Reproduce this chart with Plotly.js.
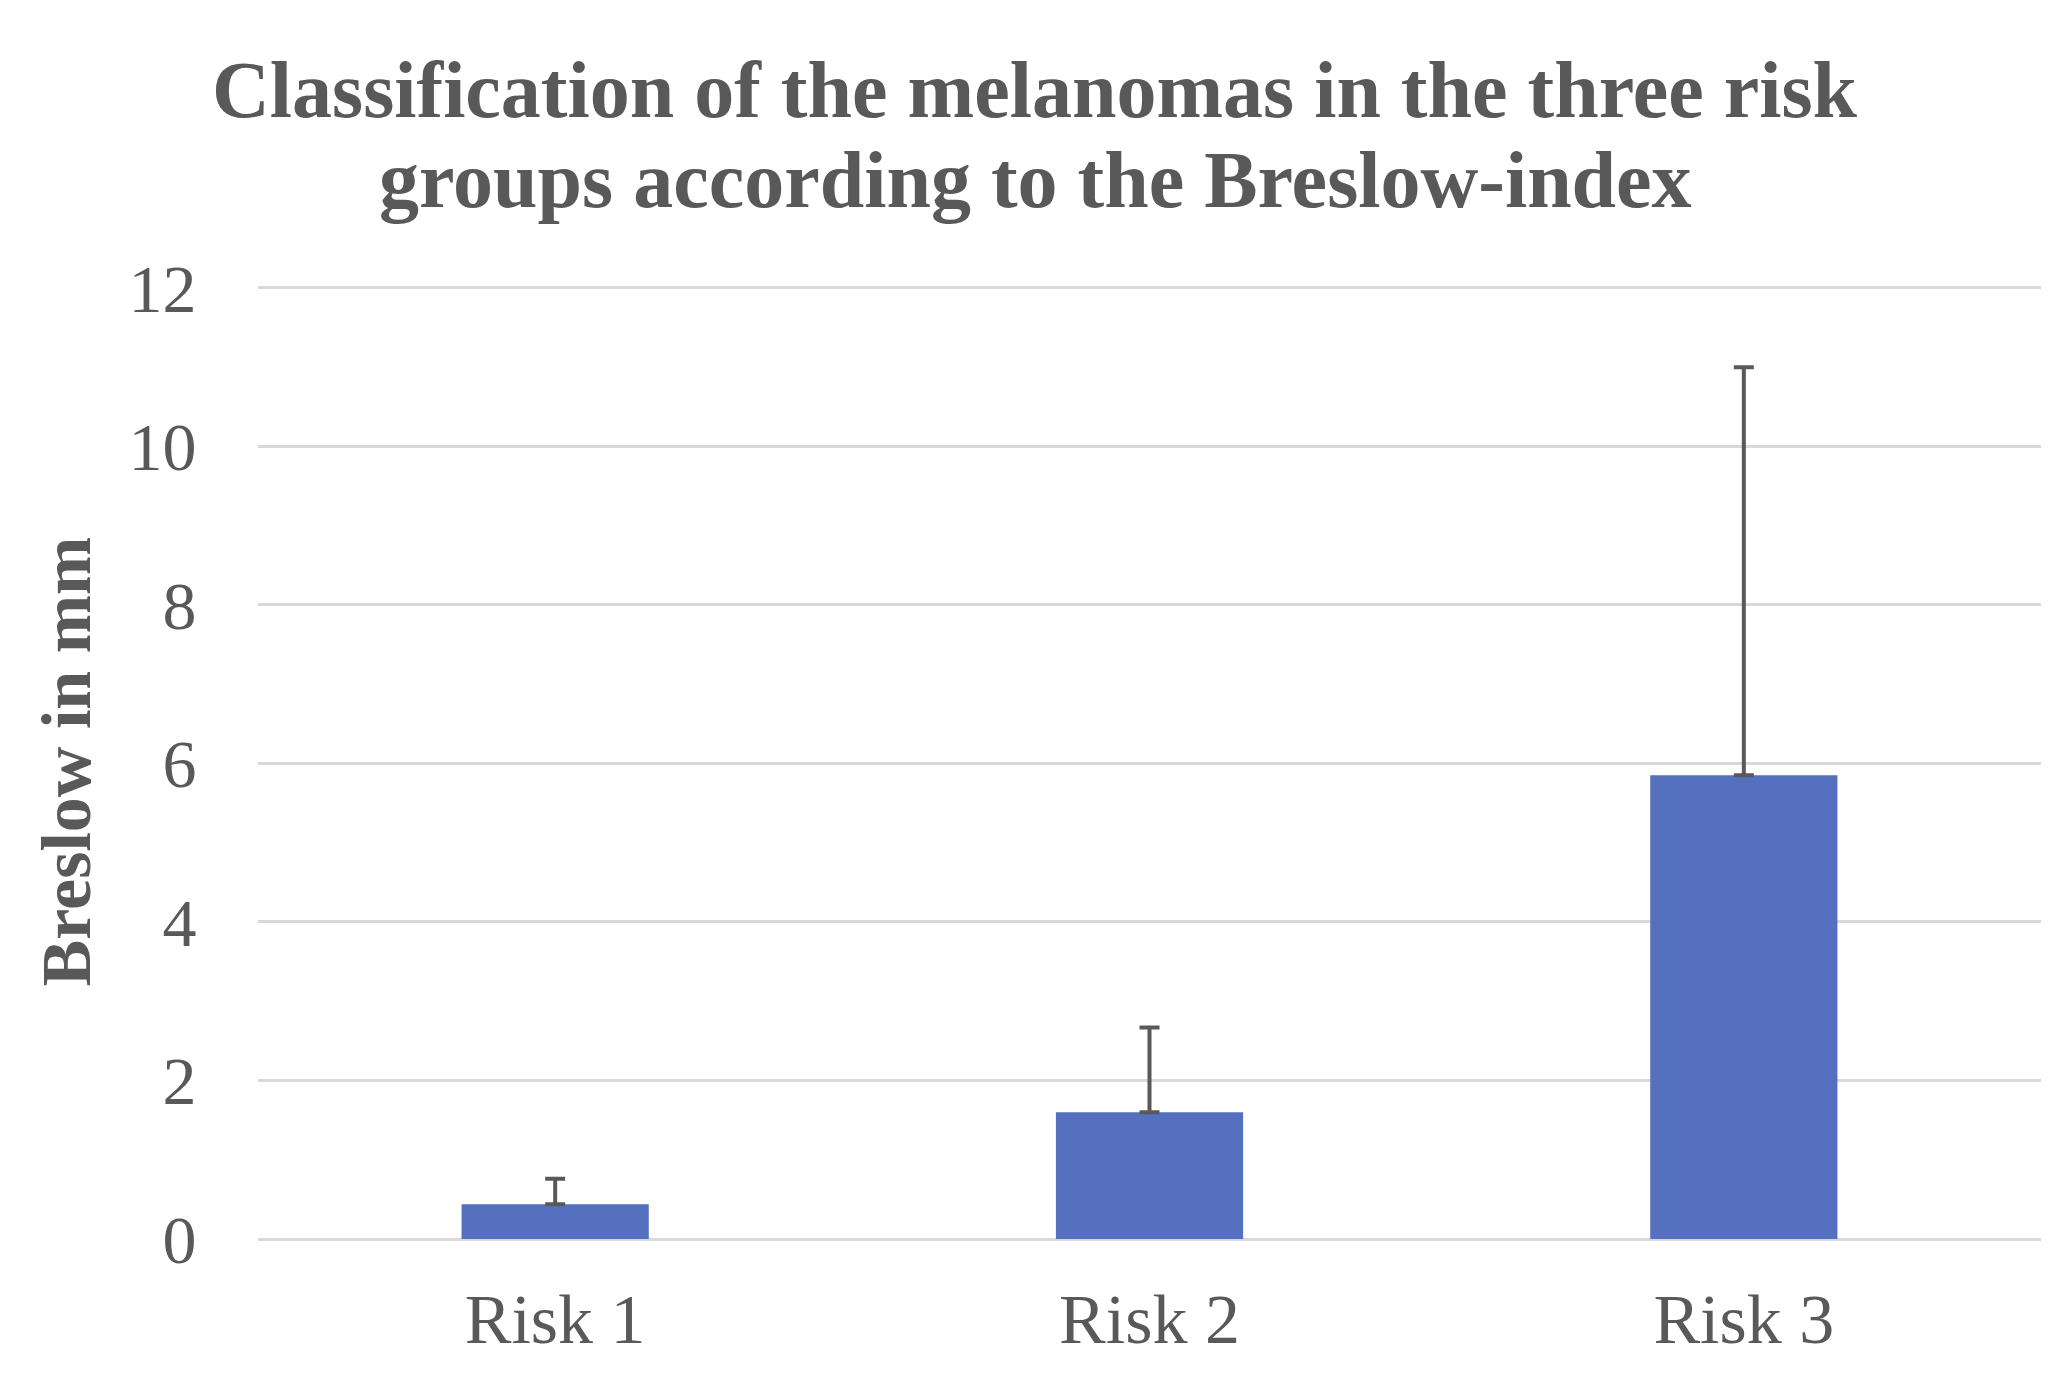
<!DOCTYPE html>
<html>
<head>
<meta charset="utf-8">
<script src="https://cdn.plot.ly/plotly-3.0.1.min.js"></script>
<style>html,body{margin:0;padding:0;background:#fff;}#chart{width:2071px;height:1382px;}</style>
</head>
<body>
<div id="chart"></div>
<script>
const categories = ["Risk 1", "Risk 2", "Risk 3"];
const breslowMean = [0.44, 1.6, 5.85];
const breslowErrPlus = [0.32, 1.07, 5.15];
const breslowErrMinus = [0, 0, 0];
const yTicks = [0, 2, 4, 6, 8, 10, 12];
const titleLine1 = "Classification of the melanomas in the three risk";
const titleLine2 = "groups according to the Breslow-index";
const yTitle = "Breslow in mm";

const txt = "#595959";
const serif = "Liberation Serif, Times New Roman, serif";

const trace = {
  type: "bar",
  x: categories,
  y: breslowMean,
  marker: {color: "#5470BF", line: {width: 0}},
  error_y: {
    type: "data",
    symmetric: false,
    array: breslowErrPlus,
    arrayminus: breslowErrMinus,
    color: "#595959",
    thickness: 4,
    width: 10
  },
  hoverinfo: "none"
};

const plotTop = 284;
const plotH = 1382 - plotTop - 143;

const layout = {
  width: 2071,
  height: 1382,
  paper_bgcolor: "#ffffff",
  plot_bgcolor: "#ffffff",
  margin: {l: 258, r: 30, t: plotTop, b: 143},
  showlegend: false,
  bargap: 0.685,
  font: {family: serif, color: txt},
  xaxis: {
    type: "category",
    showgrid: false,
    showline: false,
    zeroline: false,
    ticks: "outside",
    ticklen: 19,
    tickcolor: "rgba(0,0,0,0)",
    tickfont: {family: serif, size: 70, color: txt}
  },
  yaxis: {
    range: [0, 12.05],
    tickvals: yTicks,
    ticktext: yTicks.map(String),
    showgrid: true,
    gridcolor: "#d9d9d9",
    gridwidth: 3,
    zeroline: true,
    zerolinecolor: "#d9d9d9",
    zerolinewidth: 3,
    showline: false,
    ticks: "outside",
    ticklen: 47,
    tickcolor: "rgba(0,0,0,0)",
    tickfont: {family: serif, size: 68, color: txt},
    title: {text: "<b>" + yTitle + "</b>", font: {family: serif, size: 70, color: txt}, standoff: 14}
  },
  annotations: [
    {text: "<b>" + titleLine1 + "</b>", xref: "paper", yref: "paper",
     x: (1035 - 258) / 1783, y: 1 + (plotTop - 90) / plotH, xanchor: "center", yanchor: "middle",
     showarrow: false, font: {family: serif, size: 80, color: txt}},
    {text: "<b>" + titleLine2 + "</b>", xref: "paper", yref: "paper",
     x: (1035 - 258) / 1783, y: 1 + (plotTop - 180) / plotH, xanchor: "center", yanchor: "middle",
     showarrow: false, font: {family: serif, size: 80, color: txt}}
  ]
};

Plotly.newPlot("chart", [trace], layout, {staticPlot: true, displayModeBar: false});
</script>
</body>
</html>
